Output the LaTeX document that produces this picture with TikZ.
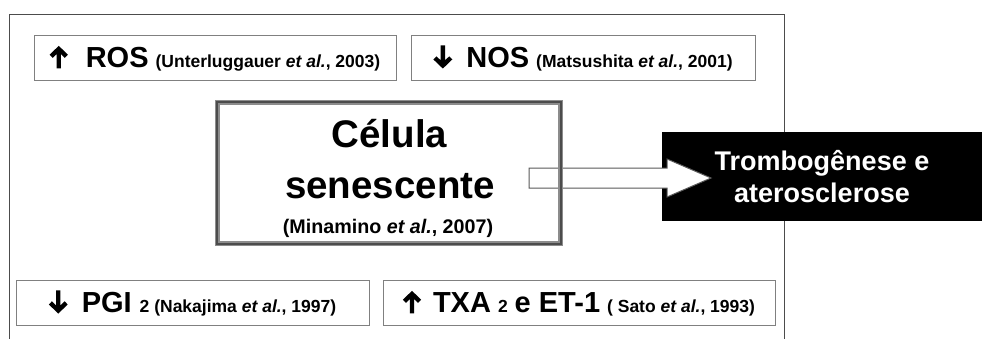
\documentclass[tikz,border=0pt]{standalone}
\usepackage{fontspec}
\setmainfont{Liberation Sans}
\usetikzlibrary{calc}
\newsavebox{\uparrowbox}
\newsavebox{\downarrowbox}
\newcommand{\bigtxt}{\fontsize{29}{34}\selectfont\bfseries}
\newcommand{\smalltxt}{\fontsize{17.5}{20}\selectfont\bfseries}
\newcommand{\arrowpt}[2]{\pgfpoint{#1pt}{#2pt}}
\begin{document}
% heavy up and down arrows used in the reference boxes
\sbox{\uparrowbox}{\begin{pgfpicture}
  \pgfpathrectangle{\pgfpointorigin}{\arrowpt{18}{23}}\pgfusepath{use as bounding box}
  \pgfsetlinewidth{4.4pt}\pgfsetmiterjoin\pgfsetbuttcap
  \pgfpathmoveto{\arrowpt{9}{-0.5}}\pgfpathlineto{\arrowpt{9}{19.5}}
  \pgfpathmoveto{\arrowpt{1.4}{11.6}}\pgfpathlineto{\arrowpt{9}{19}}\pgfpathlineto{\arrowpt{16.6}{11.6}}
  \pgfusepath{stroke}
\end{pgfpicture}}
\sbox{\downarrowbox}{\begin{pgfpicture}
  \pgfpathrectangle{\pgfpointorigin}{\arrowpt{19}{24}}\pgfusepath{use as bounding box}
  \pgfsetlinewidth{4.4pt}\pgfsetmiterjoin\pgfsetbuttcap
  \pgfpathmoveto{\arrowpt{9.5}{2}}\pgfpathlineto{\arrowpt{9.5}{22.5}}
  \pgfpathmoveto{\arrowpt{1.6}{10}}\pgfpathlineto{\arrowpt{9.5}{2.4}}\pgfpathlineto{\arrowpt{17.4}{10}}
  \pgfusepath{stroke}
\end{pgfpicture}}
\begin{tikzpicture}[x=1pt,y=-1pt,
  outerframe/.style={draw=black!70,line width=1pt},
  refbox/.style={draw=black!50,line width=1pt,fill=white,inner sep=0pt,
    text height=20.8pt,text depth=0pt,minimum height=45pt},
  cellrimlight/.style={draw=black!45,line width=5pt},
  cellrimdark/.style={draw=black!70,line width=2.2pt},
  blockarrow/.style={draw=black!65,line width=1pt,fill=white,line join=miter},
  outcome/.style={fill=black,text=white,inner sep=0pt,align=center,
    minimum width=320pt,minimum height=89pt,
    font=\fontsize{27}{32}\selectfont\bfseries}]

\useasboundingbox (0,0) rectangle (983,338);
\fill[white] (0,0) rectangle (983,338);

% open frame around the panel
\draw[outerframe] (9.5,345) -- (9.5,14.5) -- (784.5,14.5) -- (784.5,345);

% reference boxes
\node[refbox,minimum width=362pt] (ros) at (215,57.5)
  {\usebox{\uparrowbox}\hspace{18pt}{\bigtxt ROS}\hspace{7pt}{\smalltxt(Unterluggauer \textit{et al.}, 2003)}};
\node[refbox,minimum width=344pt] (nos) at (583,57.5)
  {\usebox{\downarrowbox}\hspace{14pt}{\bigtxt NOS}\hspace{7pt}{\smalltxt(Matsushita \textit{et al.}, 2001)}};
\node[refbox,minimum width=353pt] (pgi) at (192.5,302.5)
  {\usebox{\downarrowbox}\hspace{14pt}{\bigtxt PGI}\hspace{8pt}{\smalltxt 2 (Nakajima \textit{et al.}, 1997)}};
\node[refbox,minimum width=392pt] (txa) at (579,302.5)
  {\usebox{\uparrowbox}\hspace{12pt}{\bigtxt TXA}\hspace{7pt}{\smalltxt 2}\hspace{7pt}{\bigtxt e ET-1}\hspace{7pt}{\smalltxt( Sato \textit{et al.}, 1993)}};

% central cell box (white body first, rim drawn after the arrow)
\node[fill=white,inner sep=0pt,minimum width=343pt,minimum height=141pt] (cell) at (389,173) {};

% outcome box
\node[outcome] (out) at (822,176.5) {Trombogênese e\\aterosclerose};

% block arrow from the cell into the outcome box
\coordinate (arrowtail) at (529,178);
\coordinate (arrowtip) at (711,178);
\draw[blockarrow]
  ($(arrowtail)+(0,-10)$) -- ($(arrowtip)+(-44,-10)$) -- ($(arrowtip)+(-44,-19)$)
  -- (arrowtip) -- ($(arrowtip)+(-44,19)$) -- ($(arrowtip)+(-44,10)$)
  -- ($(arrowtail)+(0,10)$) -- cycle;

% rim of the cell box
\draw[cellrimlight] (cell.north west) rectangle (cell.south east);
\draw[cellrimdark] (cell.north west) rectangle (cell.south east);

% cell box text
\node[anchor=base,font=\fontsize{38.5}{44}\selectfont\bfseries] (celltitle) at (389.5,147) {Célula};
\node[anchor=base,font=\fontsize{38.5}{44}\selectfont\bfseries] (cellsub) at (390,198) {senescente};
\node[anchor=base,font=\fontsize{19.7}{23}\selectfont\bfseries] (cellref) at (388,233) {(Minamino \textit{et al.}, 2007)};
\end{tikzpicture}
\end{document}
